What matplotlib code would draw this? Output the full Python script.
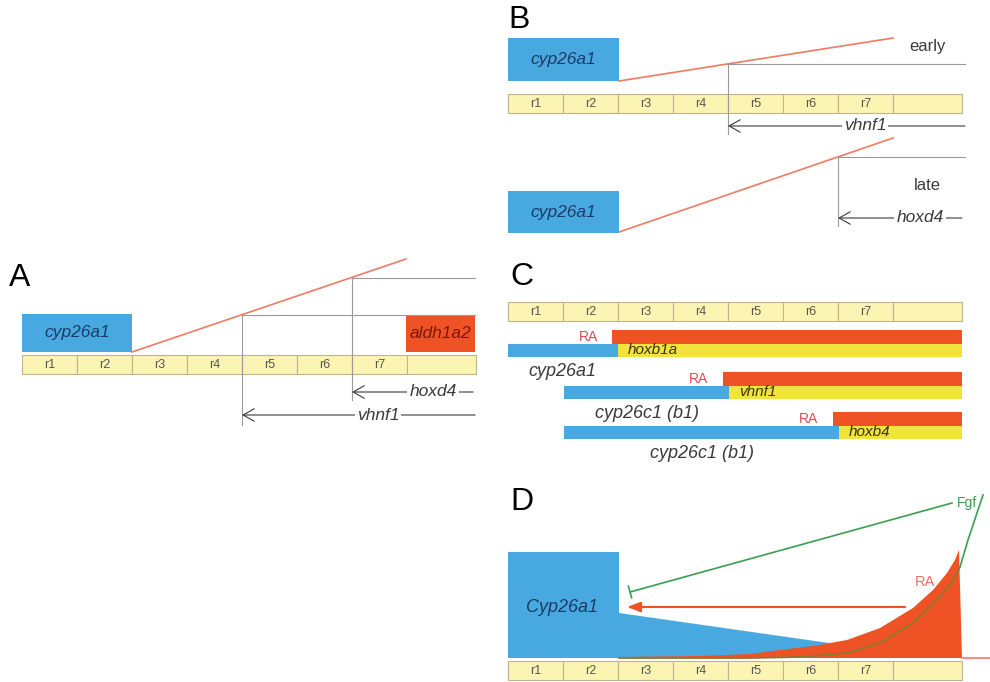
import numpy as np
import matplotlib.pyplot as plt
from matplotlib.patches import Rectangle, Polygon

plt.rcParams['font.family'] = ['Liberation Sans', 'DejaVu Sans']

# rhombomere segments (same for every panel)
segment_labels = ['r1', 'r2', 'r3', 'r4', 'r5', 'r6', 'r7', '']
segment_widths = [55, 55, 55, 55, 55, 55, 55, 69]

# panel C rows: RA domain start, cyp26 domain end, target gene
c_genes = ['hoxb1a', 'vhnf1', 'hoxb4']
c_cyp_labels = ['cyp26a1', 'cyp26c1 (b1)', 'cyp26c1 (b1)']
c_cyp_start = [508, 564, 564]
c_cyp_end = [618, 729, 839]
c_ra_start = [612, 723, 833]
c_label_x = [562, 647, 702]

# panel D profiles
ra_x = [619, 700, 750, 780, 813, 847, 880, 913, 933, 947, 955, 959]
ra_y = [657, 656, 654, 650, 646, 640, 628, 608, 590, 573, 560, 550]
fgf_x = [619, 750, 800, 847, 880, 913, 940, 953, 960, 968, 983]
fgf_y = [658, 658, 657, 653, 643, 623, 597, 580, 567, 540, 495]
cyp_top_x = [508, 619, 619, 857, 900]
cyp_top_y = [552, 552, 613, 647, 652]

BLUE = '#47a9e0'
RED = '#ef5325'
YEL = '#f1e23c'
LINE_RED = '#f07a62'
GREY = '#9a9a9a'
DARK = '#3a3a3a'
NAVY = '#1c3b66'

fig = plt.figure(figsize=(9.9, 6.82), dpi=100)
ax = fig.add_axes([0, 0, 1, 1])
ax.set_xlim(0, 990)
ax.set_ylim(682, 0)
ax.axis('off')


def segments(x0, y0, h=19):
    x = x0
    for lab, w in zip(segment_labels, segment_widths):
        ax.add_patch(Rectangle((x, y0), w, h, facecolor='#fcf4b2', edgecolor='#bdb58e', lw=0.8))
        ax.text(x + w / 2, y0 + h / 2 + 0.5, lab, fontsize=9, color='#555', ha='center', va='center')
        x += w


def box(x0, y0, w, h, color, label, tcolor):
    ax.add_patch(Rectangle((x0, y0), w, h, facecolor=color, edgecolor='none'))
    ax.text(x0 + w / 2, y0 + h / 2, label, fontsize=12.5, style='italic', color=tcolor,
            ha='center', va='center')


def back_arrow(x_end, x_start, y, label, lx):
    ax.annotate('', xy=(x_end, y), xytext=(x_start, y),
                arrowprops=dict(arrowstyle='->,head_length=0.8,head_width=0.45', lw=0.8,
                                color=DARK, shrinkA=0, shrinkB=0))
    ax.text(lx, y, label, fontsize=12.5, style='italic', color=DARK, ha='center', va='center',
            bbox=dict(facecolor='white', edgecolor='none', pad=1.5))


def panel_letter(x, y, s):
    ax.text(x, y, s, fontsize=23, color='black', ha='left', va='center')


# ---- panel A ----
panel_letter(9, 278, 'A')
box(22, 314, 110, 38, BLUE, 'cyp26a1', NAVY)
box(406, 315, 69, 37, RED, 'aldh1a2', '#7a1808')
ax.plot([132, 406], [352, 259], color=LINE_RED, lw=1.2)
ax.plot([242, 475], [315, 315], color=GREY, lw=0.8)
ax.plot([242, 242], [315, 425], color=GREY, lw=0.8)
ax.plot([352, 475], [278, 278], color=GREY, lw=0.8)
ax.plot([352, 352], [278, 400], color=GREY, lw=0.8)
segments(22, 355)
back_arrow(352, 473, 392, 'hoxd4', 433)
back_arrow(242, 475, 415, 'vhnf1', 378)

# ---- panel B ----
panel_letter(508, 20, 'B')
box(508, 38, 111, 43, BLUE, 'cyp26a1', NAVY)
ax.plot([619, 893], [81, 38], color=LINE_RED, lw=1.2)
ax.text(927, 47, 'early', fontsize=12, color=DARK, ha='center', va='center')
ax.plot([728, 965], [64, 64], color=GREY, lw=0.8)
ax.plot([728, 728], [64, 134], color=GREY, lw=0.8)
segments(508, 94)
back_arrow(728, 965, 126, 'vhnf1', 865)
box(508, 191, 111, 42, BLUE, 'cyp26a1', NAVY)
ax.plot([619, 893], [232, 138], color=LINE_RED, lw=1.2)
ax.plot([838, 965], [157, 157], color=GREY, lw=0.8)
ax.plot([838, 838], [157, 226], color=GREY, lw=0.8)
ax.text(927, 185, 'late', fontsize=12, color=DARK, ha='center', va='center')
back_arrow(838, 962, 218, 'hoxd4', 920)

# ---- panel C ----
panel_letter(510, 277, 'C')
segments(508, 302)
row_y = [330, 372, 412]
for i, gene in enumerate(c_genes):
    y = row_y[i]
    ax.add_patch(Rectangle((c_ra_start[i], y), 962 - c_ra_start[i], 13.5, facecolor=RED, edgecolor='none'))
    ax.add_patch(Rectangle((c_cyp_start[i], y + 13.5), c_cyp_end[i] - c_cyp_start[i], 13.5,
                           facecolor=BLUE, edgecolor='none'))
    ax.add_patch(Rectangle((c_cyp_end[i], y + 13.5), 962 - c_cyp_end[i], 13.5, facecolor=YEL,
                           edgecolor='none'))
    ax.text(c_ra_start[i] - 24, y + 7, 'RA', fontsize=10, color='#e04a50', ha='center', va='center')
    ax.text(c_cyp_end[i] + 10, y + 20.5, gene, fontsize=11, style='italic', color='#3a3510',
            ha='left', va='center')
    ax.text(c_label_x[i], y + 41, c_cyp_labels[i],
            fontsize=13, style='italic', color=DARK, ha='center', va='center')

# ---- panel D ----
panel_letter(510, 502, 'D')
ax.add_patch(Polygon(list(zip(cyp_top_x, cyp_top_y)) + [(900, 658), (508, 658)], closed=True,
                     facecolor=BLUE, edgecolor='none'))
ax.add_patch(Polygon(list(zip(ra_x, ra_y)) + [(962, 658), (619, 658)], closed=True,
                     facecolor=RED, edgecolor='none'))
ax.plot(fgf_x[:-2], fgf_y[:-2], color='#8a7a30', lw=1.3)
ax.plot(fgf_x[-3:], fgf_y[-3:], color='#3aa050', lw=1.2)
ax.plot([962, 990], [658, 658], color=LINE_RED, lw=1.2)
# Fgf inhibition line with bar end
p0 = np.array([952, 503])
p1 = np.array([630, 592])
ax.plot([p0[0], p1[0]], [p0[1], p1[1]], color='#3aa050', lw=1.2)
d = (p1 - p0) / np.linalg.norm(p1 - p0)
n = np.array([-d[1], d[0]]) * 6
ax.plot([p1[0] - n[0], p1[0] + n[0]], [p1[1] - n[1], p1[1] + n[1]], color='#3aa050', lw=1.2)
ax.text(967, 503, 'Fgf', fontsize=10, color='#3aa050', ha='center', va='center')
ax.annotate('', xy=(627, 607), xytext=(905, 607),
            arrowprops=dict(arrowstyle='-|>,head_length=0.8,head_width=0.3', lw=1.5,
                            color='#f0502a', shrinkA=0, shrinkB=0))
ax.text(925, 582, 'RA', fontsize=10.5, color='#f07060', ha='center', va='center')
ax.text(562, 607, 'Cyp26a1', fontsize=13, style='italic', color=NAVY, ha='center', va='center')
segments(508, 661)

plt.savefig('out.png', dpi=100)
